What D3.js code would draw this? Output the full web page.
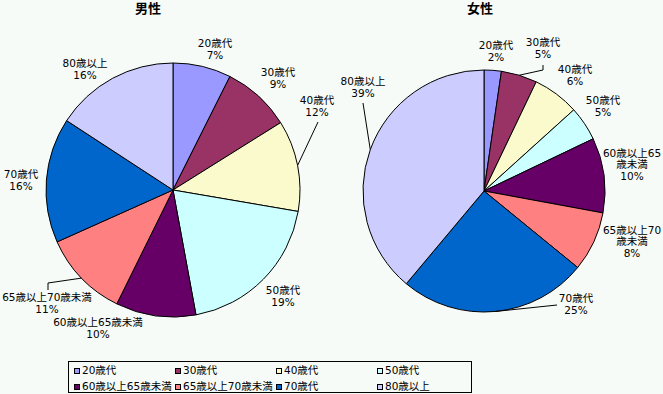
<!DOCTYPE html>
<html><head><meta charset="utf-8">
<script src="https://cdn.jsdelivr.net/npm/d3@7"></script>
<style>
body{margin:0;background:#F6FBF7;}
svg{display:block;}
text{font-family:"DejaVu Sans","Noto Sans CJK JP",sans-serif;}
</style></head>
<body><svg id="c" width="663" height="394"></svg>
<script>
const categories = ["20歳代","30歳代","40歳代","50歳代","60歳以上65歳未満","65歳以上70歳未満","70歳代","80歳以上"];
const maleValues = [7.4, 8.7, 11.6, 19.4, 10.2, 11.0, 15.9, 15.8];
const femaleValues = [2.3, 4.8, 6.2, 4.6, 10.0, 8.0, 25.2, 38.9];
const colors = ["#9999FF","#993366","#FAFACC","#CCFFFF","#660066","#FF8080","#0066CC","#CCCCFF"];
const titles = ["男性","女性"];

// layout: label text lines and label block centres (relative to pie centre)
const maleLabels = [
  {lines:["20歳代"], x:42, y:-141},
  {lines:["30歳代"], x:105, y:-112},
  {lines:["40歳代"], x:144, y:-84, leader:[[145,-68]]},
  {lines:["50歳代"], x:110, y:106},
  {lines:["60歳以上65歳未満"], x:-75, y:138},
  {lines:["65歳以上70歳未満"], x:-126, y:113, leader:[[-125,93],[-125,100]]},
  {lines:["70歳代"], x:-152, y:-10},
  {lines:["80歳以上"], x:-88, y:-121}
];
const femaleLabels = [
  {lines:["20歳代"], x:12, y:-140},
  {lines:["30歳代"], x:59, y:-143, leader:[[59,-121],[59,-126]]},
  {lines:["40歳代"], x:91, y:-116},
  {lines:["50歳代"], x:119, y:-85},
  {lines:["60歳以上65","歳未満"], x:148, y:-27},
  {lines:["65歳以上70","歳未満"], x:148, y:50},
  {lines:["70歳代"], x:92, y:113, leader:[[73,114]]},
  {lines:["80歳以上"], x:-121, y:-104, leader:[[-121,-88]]}
];

const svg = d3.select("#c");
const pies = [
  {cx:173, cy:190, r:127, values:maleValues, labels:maleLabels, title:titles[0], tx:148},
  {cx:484, cy:191, r:121, values:femaleValues, labels:femaleLabels, title:titles[1], tx:480}
];

const pie = d3.pie().sort(null).value(d => d);

pies.forEach(p => {
  svg.append("text").attr("x", p.tx).attr("y", 13).attr("text-anchor","middle")
    .attr("font-size", 13).attr("font-weight","bold").attr("fill","#000").text(p.title);
  const g = svg.append("g").attr("transform", `translate(${p.cx},${p.cy})`);
  const arcs = pie(p.values);
  const arc = d3.arc().innerRadius(0).outerRadius(p.r);
  g.selectAll("path.slice").data(arcs).join("path").attr("class","slice")
    .attr("d", arc).attr("fill", (d,i) => colors[i])
    .attr("stroke","#000").attr("stroke-width",1).attr("stroke-linejoin","bevel");
  const total = d3.sum(p.values);
  arcs.forEach((a,i) => {
    const L = p.labels[i];
    const mid = (a.startAngle + a.endAngle)/2;
    if (L.leader) {
      const ex = p.r*Math.sin(mid), ey = -p.r*Math.cos(mid);
      const pts = [[ex,ey]].concat(L.leader);
      g.append("path").attr("d", d3.line()(pts)).attr("fill","none")
        .attr("stroke","#000").attr("stroke-width",1);
    }
    const lines = L.lines.concat([Math.round(p.values[i]/total*100) + "%"]);
    const n = lines.length;
    lines.forEach((s,k) => {
      g.append("text").attr("text-anchor","middle").attr("font-size",10.5).attr("fill","#000")
        .attr("x", L.x).attr("y", L.y + (k - (n-1)/2)*11.5 + 4).text(s);
    });
  });
});

// legend
const legend = svg.append("g");
legend.append("rect").attr("x",68.5).attr("y",361.5).attr("width",403).attr("height",31)
  .attr("fill","#F6FBF7").attr("stroke","#000").attr("stroke-width",1);
const lx = d3.scaleBand().domain(d3.range(4)).range([74,478]);
categories.forEach((c,i) => {
  const col = i % 4, row = Math.floor(i/4);
  const x = lx(col), y = 368 + row*16;
  legend.append("rect").attr("x",x+0.5).attr("y",y+0.5).attr("width",5).attr("height",5)
    .attr("fill",colors[i]).attr("stroke","#000").attr("stroke-width",1);
  legend.append("text").attr("x",x+8).attr("y",y+6).attr("font-size",10.5).attr("fill","#000").text(c);
});
</script></body></html>
